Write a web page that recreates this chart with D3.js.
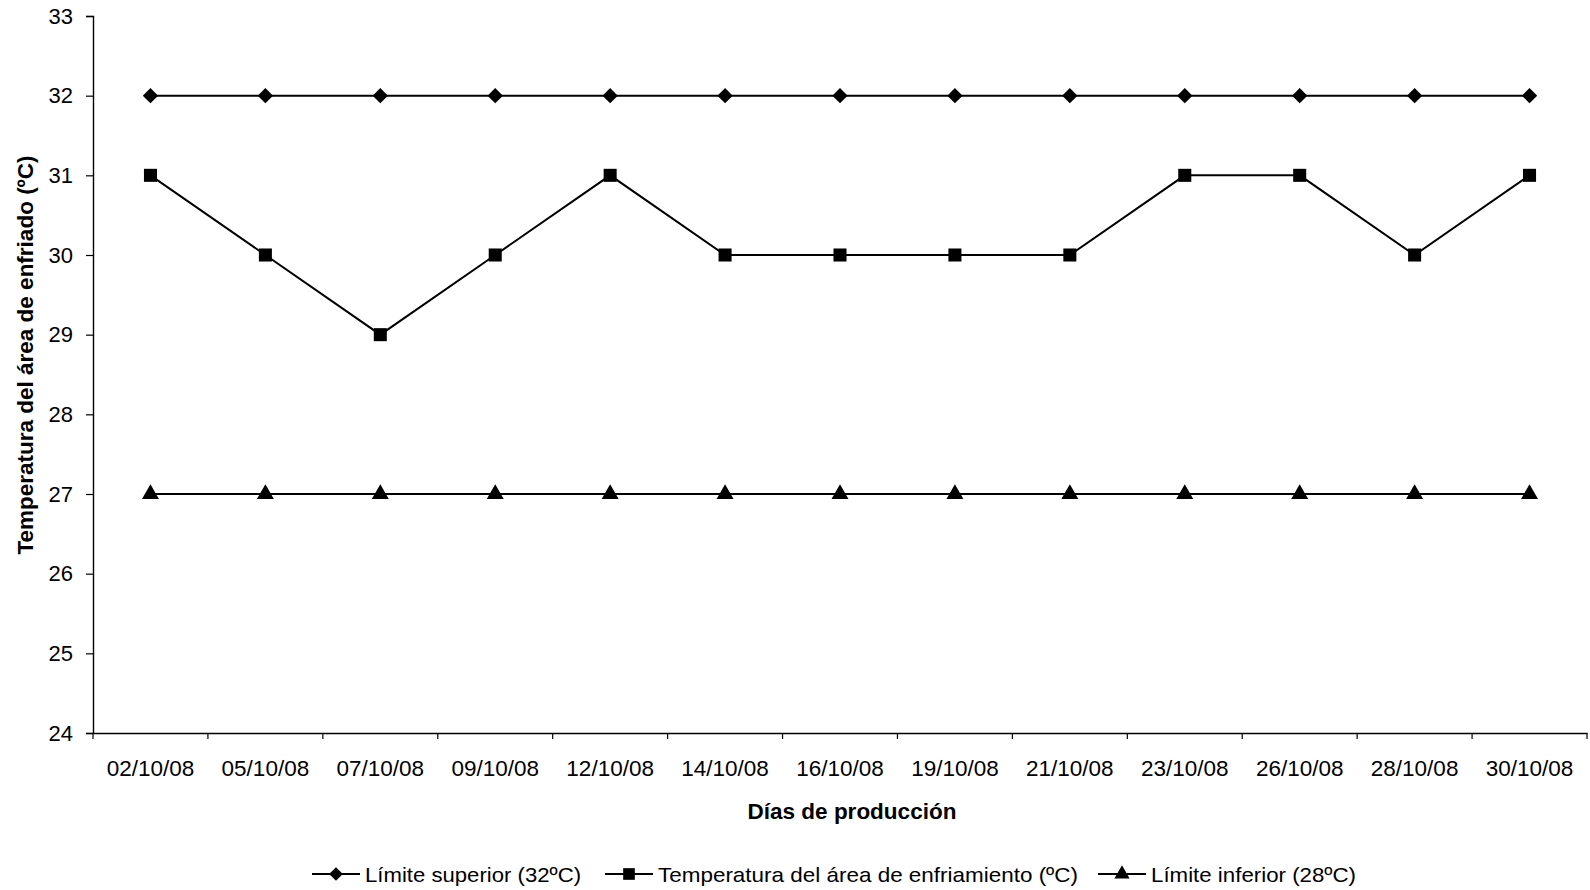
<!DOCTYPE html>
<html><head><meta charset="utf-8">
<script src="https://cdn.jsdelivr.net/npm/d3@7"></script>
<style>body{margin:0;background:#fff;} text{font-family:"Liberation Sans",Arial,sans-serif;fill:#000;}</style>
</head><body>
<svg id="c" width="1590" height="890"></svg>
<script>
const categories = ["02/10/08","05/10/08","07/10/08","09/10/08","12/10/08","14/10/08","16/10/08","19/10/08","21/10/08","23/10/08","26/10/08","28/10/08","30/10/08"];
const upperLimit = [32,32,32,32,32,32,32,32,32,32,32,32,32];
const temperature = [31,30,29,30,31,30,30,30,30,31,31,30,31];
const lowerLimit = [27,27,27,27,27,27,27,27,27,27,27,27,27];
const yTicks = [24,25,26,27,28,29,30,31,32,33];
const seriesNames = ["Límite superior (32ºC)","Temperatura del área de enfriamiento (ºC)","Límite inferior (28ºC)"];

const svg = d3.select("#c");
const L = 93, R = 1587, T = 16, B = 733;
const x = d3.scaleBand().domain(categories).range([L, R]);
const y = d3.scaleLinear().domain([24, 33]).range([B, T]);

// axes
const yAxis = svg.append("g").attr("transform", `translate(${L},0)`)
  .call(d3.axisLeft(y).tickValues(yTicks).tickSize(7).tickPadding(13).tickFormat(d3.format("d")));
yAxis.selectAll("text").style("font-size", "22px");
const xAxis = svg.append("g").attr("transform", `translate(0,${B})`)
  .call(d3.axisBottom(x).tickSize(0).tickPadding(27));
xAxis.selectAll("text").style("font-size", "22.5px");
// ticks between categories
const bounds = categories.map((c) => x(c)).concat([R]);
svg.append("g").selectAll("line").data(bounds).join("line")
  .attr("x1", d => d).attr("x2", d => d).attr("y1", B).attr("y2", B + 6)
  .attr("stroke", "#000").attr("stroke-width", 1.2);
svg.selectAll(".domain").attr("stroke", "#000").attr("stroke-width", 1.4);
svg.selectAll(".tick line").attr("stroke", "#000").attr("stroke-width", 1.2);

const cx = d => x(d) + x.bandwidth() / 2;
const line = d3.line().x(d => cx(d.c)).y(d => y(d.v));
const series = [upperLimit, temperature, lowerLimit];
const symbols = [d3.symbolDiamond2, d3.symbolSquare, d3.symbolTriangle];
const sizes = [150, 170, 125];

series.forEach((vals, i) => {
  const pts = categories.map((c, j) => ({c, v: vals[j]}));
  svg.append("path").datum(pts).attr("d", line)
    .attr("fill", "none").attr("stroke", "#000").attr("stroke-width", 2);
  svg.append("g").selectAll("path").data(pts).join("path")
    .attr("transform", d => `translate(${cx(d.c)},${y(d.v)})`)
    .attr("d", d3.symbol().type(symbols[i]).size(sizes[i])).attr("fill", "#000");
});

// axis titles
svg.append("text").attr("transform", `translate(33,355) rotate(-90)`)
  .attr("text-anchor", "middle").style("font-size", "22.5px").style("font-weight", "bold")
  .text("Temperatura del área de enfriado (ºC)");
svg.append("text").attr("x", 852).attr("y", 819).attr("text-anchor", "middle")
  .style("font-size", "22.5px").style("font-weight", "bold").text("Días de producción");

// legend
const legendX = [312, 605, 1098];
const legendW = [216, 420, 205];
const ly = 874;
seriesNames.forEach((name, i) => {
  const g = svg.append("g");
  g.append("line").attr("x1", legendX[i]).attr("x2", legendX[i] + 48).attr("y1", ly).attr("y2", ly)
    .attr("stroke", "#000").attr("stroke-width", 2);
  g.append("path").attr("transform", `translate(${legendX[i] + 24},${ly})`)
    .attr("d", d3.symbol().type(symbols[i]).size(sizes[i] * 0.8)).attr("fill", "#000");
  g.append("text").attr("x", legendX[i] + 53).attr("y", ly + 8).style("font-size", "21px")
    .attr("textLength", legendW[i]).attr("lengthAdjust", "spacingAndGlyphs").text(name);
});
</script>
</body></html>
